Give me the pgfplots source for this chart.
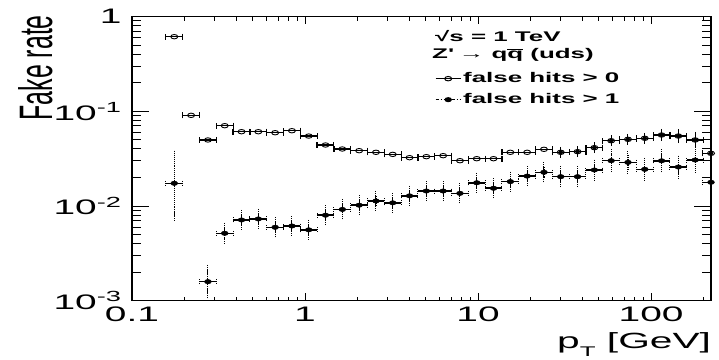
\documentclass[border=0pt]{standalone}
\usepackage{pgfplots}
\pgfplotsset{compat=1.18}
\usepackage{pgfplotstable}
\usepackage{fontspec}
\setmainfont{Liberation Sans}[FakeStretch=1.85]
\newfontfamily\ylabfont{Liberation Sans}

% false hits > 0 : x, y, relative x errors
\pgfplotstableread{
x y xp xm
0.1755 0.614 0.118 0.106
0.2196 0.0907 0.118 0.106
0.2747 0.0498 0.118 0.106
0.3435 0.0705 0.118 0.106
0.4295 0.0609 0.118 0.106
0.5372 0.0609 0.118 0.106
0.6719 0.0594 0.118 0.106
0.8400 0.0624 0.118 0.106
1.0505 0.0548 0.118 0.106
1.3135 0.0441 0.118 0.106
1.643 0.0400 0.118 0.106
2.055 0.0384 0.118 0.106
2.570 0.0369 0.118 0.106
3.213 0.0351 0.118 0.106
4.018 0.0324 0.118 0.106
5.025 0.0332 0.118 0.106
6.284 0.0340 0.118 0.106
7.860 0.0301 0.118 0.106
9.83 0.0316 0.118 0.106
12.29 0.0316 0.118 0.106
15.37 0.0369 0.118 0.106
19.22 0.0369 0.118 0.106
24.04 0.0397 0.118 0.106
30.06 0.0369 0.118 0.106
37.59 0.0375 0.118 0.106
47.01 0.0413 0.118 0.106
58.80 0.0489 0.118 0.106
73.54 0.0506 0.118 0.106
91.97 0.0519 0.118 0.106
115.0 0.0562 0.118 0.106
143.8 0.0548 0.118 0.106
179.8 0.0498 0.118 0.106
222.0 0.0360 0.118 0.106
}\hitsA

% false hits > 0 : visible vertical errors (relative)
\pgfplotstableread{
x y yp ym
30.06 0.0369 0.063 0.059
37.59 0.0375 0.063 0.059
47.01 0.0413 0.063 0.059
58.80 0.0489 0.063 0.059
73.54 0.0506 0.063 0.059
91.97 0.0519 0.063 0.059
115.0 0.0562 0.076 0.070
143.8 0.0548 0.102 0.093
179.8 0.0498 0.129 0.114
222.0 0.0360 0.215 0.177
}\hitsAerr

% false hits > 1 : x, y, relative x and y errors
\pgfplotstableread{
x y xp xm yp ym
0.1755 0.01737 0.118 0.106 0.99 0.549
0.2747 0.00159 0.118 0.106 0.35 0.258
0.3435 0.00515 0.118 0.106 0.157 0.136
0.4295 0.00712 0.118 0.106 0.143 0.125
0.5372 0.00730 0.118 0.106 0.143 0.125
0.6719 0.00596 0.118 0.106 0.143 0.125
0.8400 0.00615 0.118 0.106 0.143 0.125
1.0505 0.00560 0.118 0.106 0.143 0.125
1.3135 0.00800 0.118 0.106 0.143 0.125
1.643 0.00920 0.118 0.106 0.143 0.125
2.055 0.01020 0.118 0.106 0.143 0.125
2.570 0.01130 0.118 0.106 0.143 0.125
3.213 0.01080 0.118 0.106 0.143 0.125
4.018 0.01280 0.118 0.106 0.143 0.125
5.025 0.01440 0.118 0.106 0.143 0.125
6.284 0.01440 0.118 0.106 0.143 0.125
7.860 0.01360 0.118 0.106 0.143 0.125
9.83 0.01760 0.118 0.106 0.143 0.125
12.29 0.01540 0.118 0.106 0.143 0.125
15.37 0.01810 0.118 0.106 0.143 0.125
19.22 0.02070 0.118 0.106 0.143 0.125
24.04 0.02270 0.118 0.106 0.143 0.125
30.06 0.02040 0.118 0.106 0.157 0.136
37.59 0.02040 0.118 0.106 0.157 0.136
47.01 0.02400 0.118 0.106 0.157 0.136
58.80 0.03010 0.118 0.106 0.186 0.157
73.54 0.02890 0.118 0.106 0.186 0.157
91.97 0.02440 0.118 0.106 0.186 0.157
115.0 0.03000 0.118 0.106 0.186 0.157
143.8 0.02580 0.118 0.106 0.186 0.157
179.8 0.03060 0.118 0.106 0.224 0.183
222.0 0.01780 0.118 0.106 0.385 0.333
}\hitsB

\begin{document}
\begin{tikzpicture}
\begin{axis}[
  scale only axis, width=579pt, height=284.1pt,
  at={(0pt,0pt)}, anchor=south west,
  xmode=log, ymode=log, xmin=0.1, xmax=222, ymin=0.001, ymax=1,
  axis line style={line width=1.4pt, black},
  tick align=inside,
  tick style={line width=1pt, black},
  xtick={0.1,1,10,100}, xticklabels={0.1,1,10,100},
  minor xtick={0.2,0.3,0.4,0.5,0.6,0.7,0.8,0.9,2,3,4,5,6,7,8,9,20,30,40,50,60,70,80,90,200},
  ytick=\empty, yminorticks=false,
  major tick length=7.5pt, minor tick length=4pt,
  xticklabel style={font=\fontsize{21}{21}\selectfont, yshift=-3pt},
  legend cell align=left,
  legend style={draw=none, fill=none, at={(0.5233,0.7446)}, anchor=west,
    font=\bfseries\fontsize{14}{16}\selectfont, inner sep=0pt, row sep=4pt,
    nodes={inner sep=2pt, text height=10pt, text depth=3pt}},
  legend image code/.code={\draw[mark repeat=2,mark phase=2,#1] plot coordinates {(0pt,0pt) (12.5pt,0pt) (25pt,0pt)};},
]
\addlegendimage{black, line width=1pt, mark=o, mark size=2.2pt, mark options={solid, xscale=1.6}}
\addlegendentry{false hits > 0}
\addlegendimage{black, line width=1pt, dashdotted, mark=*, mark size=2pt, mark options={solid, xscale=1.6}}
\addlegendentry{false hits > 1}

% false hits > 0
\addplot[forget plot, black, only marks, mark=none,
  error bars/.cd, y dir=both, y explicit relative,
  error bar style={line width=1pt},
  error mark options={black, mark size=3pt, line width=1pt}]
  table[x=x, y=y, y error plus=yp, y error minus=ym] {\hitsAerr};
\addplot[forget plot, black, only marks, mark=o, mark size=2.2pt,
  mark options={xscale=1.6, line width=0.9pt, fill=white},
  error bars/.cd, x dir=both, x explicit relative,
  error bar style={line width=1.1pt},
  error mark options={black, rotate=90, mark size=3pt, line width=1.2pt}]
  table[x=x, y=y, x error plus=xp, x error minus=xm] {\hitsA};

% false hits > 1
\addplot[forget plot, black, only marks, mark=none,
  error bars/.cd, y dir=both, y explicit relative,
  error bar style={line width=1.1pt, densely dotted},
  error mark options={black, mark size=4.5pt, line width=1pt, densely dotted}]
  table[x=x, y=y, y error plus=yp, y error minus=ym] {\hitsB};
\addplot[forget plot, black, only marks, mark=*, mark size=2.2pt,
  mark options={xscale=1.6},
  error bars/.cd, x dir=both, x explicit relative,
  error bar style={line width=1.5pt},
  error mark options={black, rotate=90, mark size=2.5pt, line width=1pt, densely dotted}]
  table[x=x, y=y, x error plus=xp, x error minus=xm] {\hitsB};
\end{axis}
\begin{axis}[
  scale only axis, width=579pt, height=284.1pt,
  at={(0pt,0pt)}, anchor=south west,
  xmode=log, ymode=log, xmin=0.1, xmax=222, ymin=0.001, ymax=1,
  axis line style={line width=1.4pt, black},
  tick align=inside,
  tick style={line width=1pt, black},
  xtick=\empty, xminorticks=false,
  ytick={0.001,0.01,0.1,1},
  yticklabels={10\textsuperscript{-3},10\textsuperscript{-2},10\textsuperscript{-1},1},
  minor ytick={0.002,0.003,0.004,0.005,0.006,0.007,0.008,0.009,0.02,0.03,0.04,0.05,0.06,0.07,0.08,0.09,0.2,0.3,0.4,0.5,0.6,0.7,0.8,0.9},
  major tick length=17pt, minor tick length=9pt,
  yticklabel style={font=\fontsize{21}{21}\selectfont, xshift=-7pt},
]
\addplot[forget plot, draw=none, mark=none] table[x=x, y=y] {\hitsA};
\end{axis}
\node[anchor=base west, inner sep=0pt, font=\bfseries\fontsize{14}{16}\selectfont] at (303pt,258.7pt) {√s = 1 TeV};
\node[anchor=base west, inner sep=0pt, font=\bfseries\fontsize{14}{16}\selectfont] at (300pt,242.4pt) {Z\textquotesingle\ → q\ensuremath{\overline{\hbox{q}}} (uds)};
\node[anchor=base west, inner sep=0pt, font=\fontsize{22}{22}\selectfont] at (425pt,-47.6pt) {p\raisebox{-8.5pt}{\fontsize{14}{14}\selectfont T} [GeV]};
\node[rotate=90, anchor=base east, inner sep=0pt] at (-80pt,285.7pt) {\resizebox{105pt}{34pt}{\ylabfont Fake rate}};
\pgfresetboundingbox
\path (-132pt,-58.3pt) rectangle (587pt,300.7pt);
\end{tikzpicture}
\end{document}
